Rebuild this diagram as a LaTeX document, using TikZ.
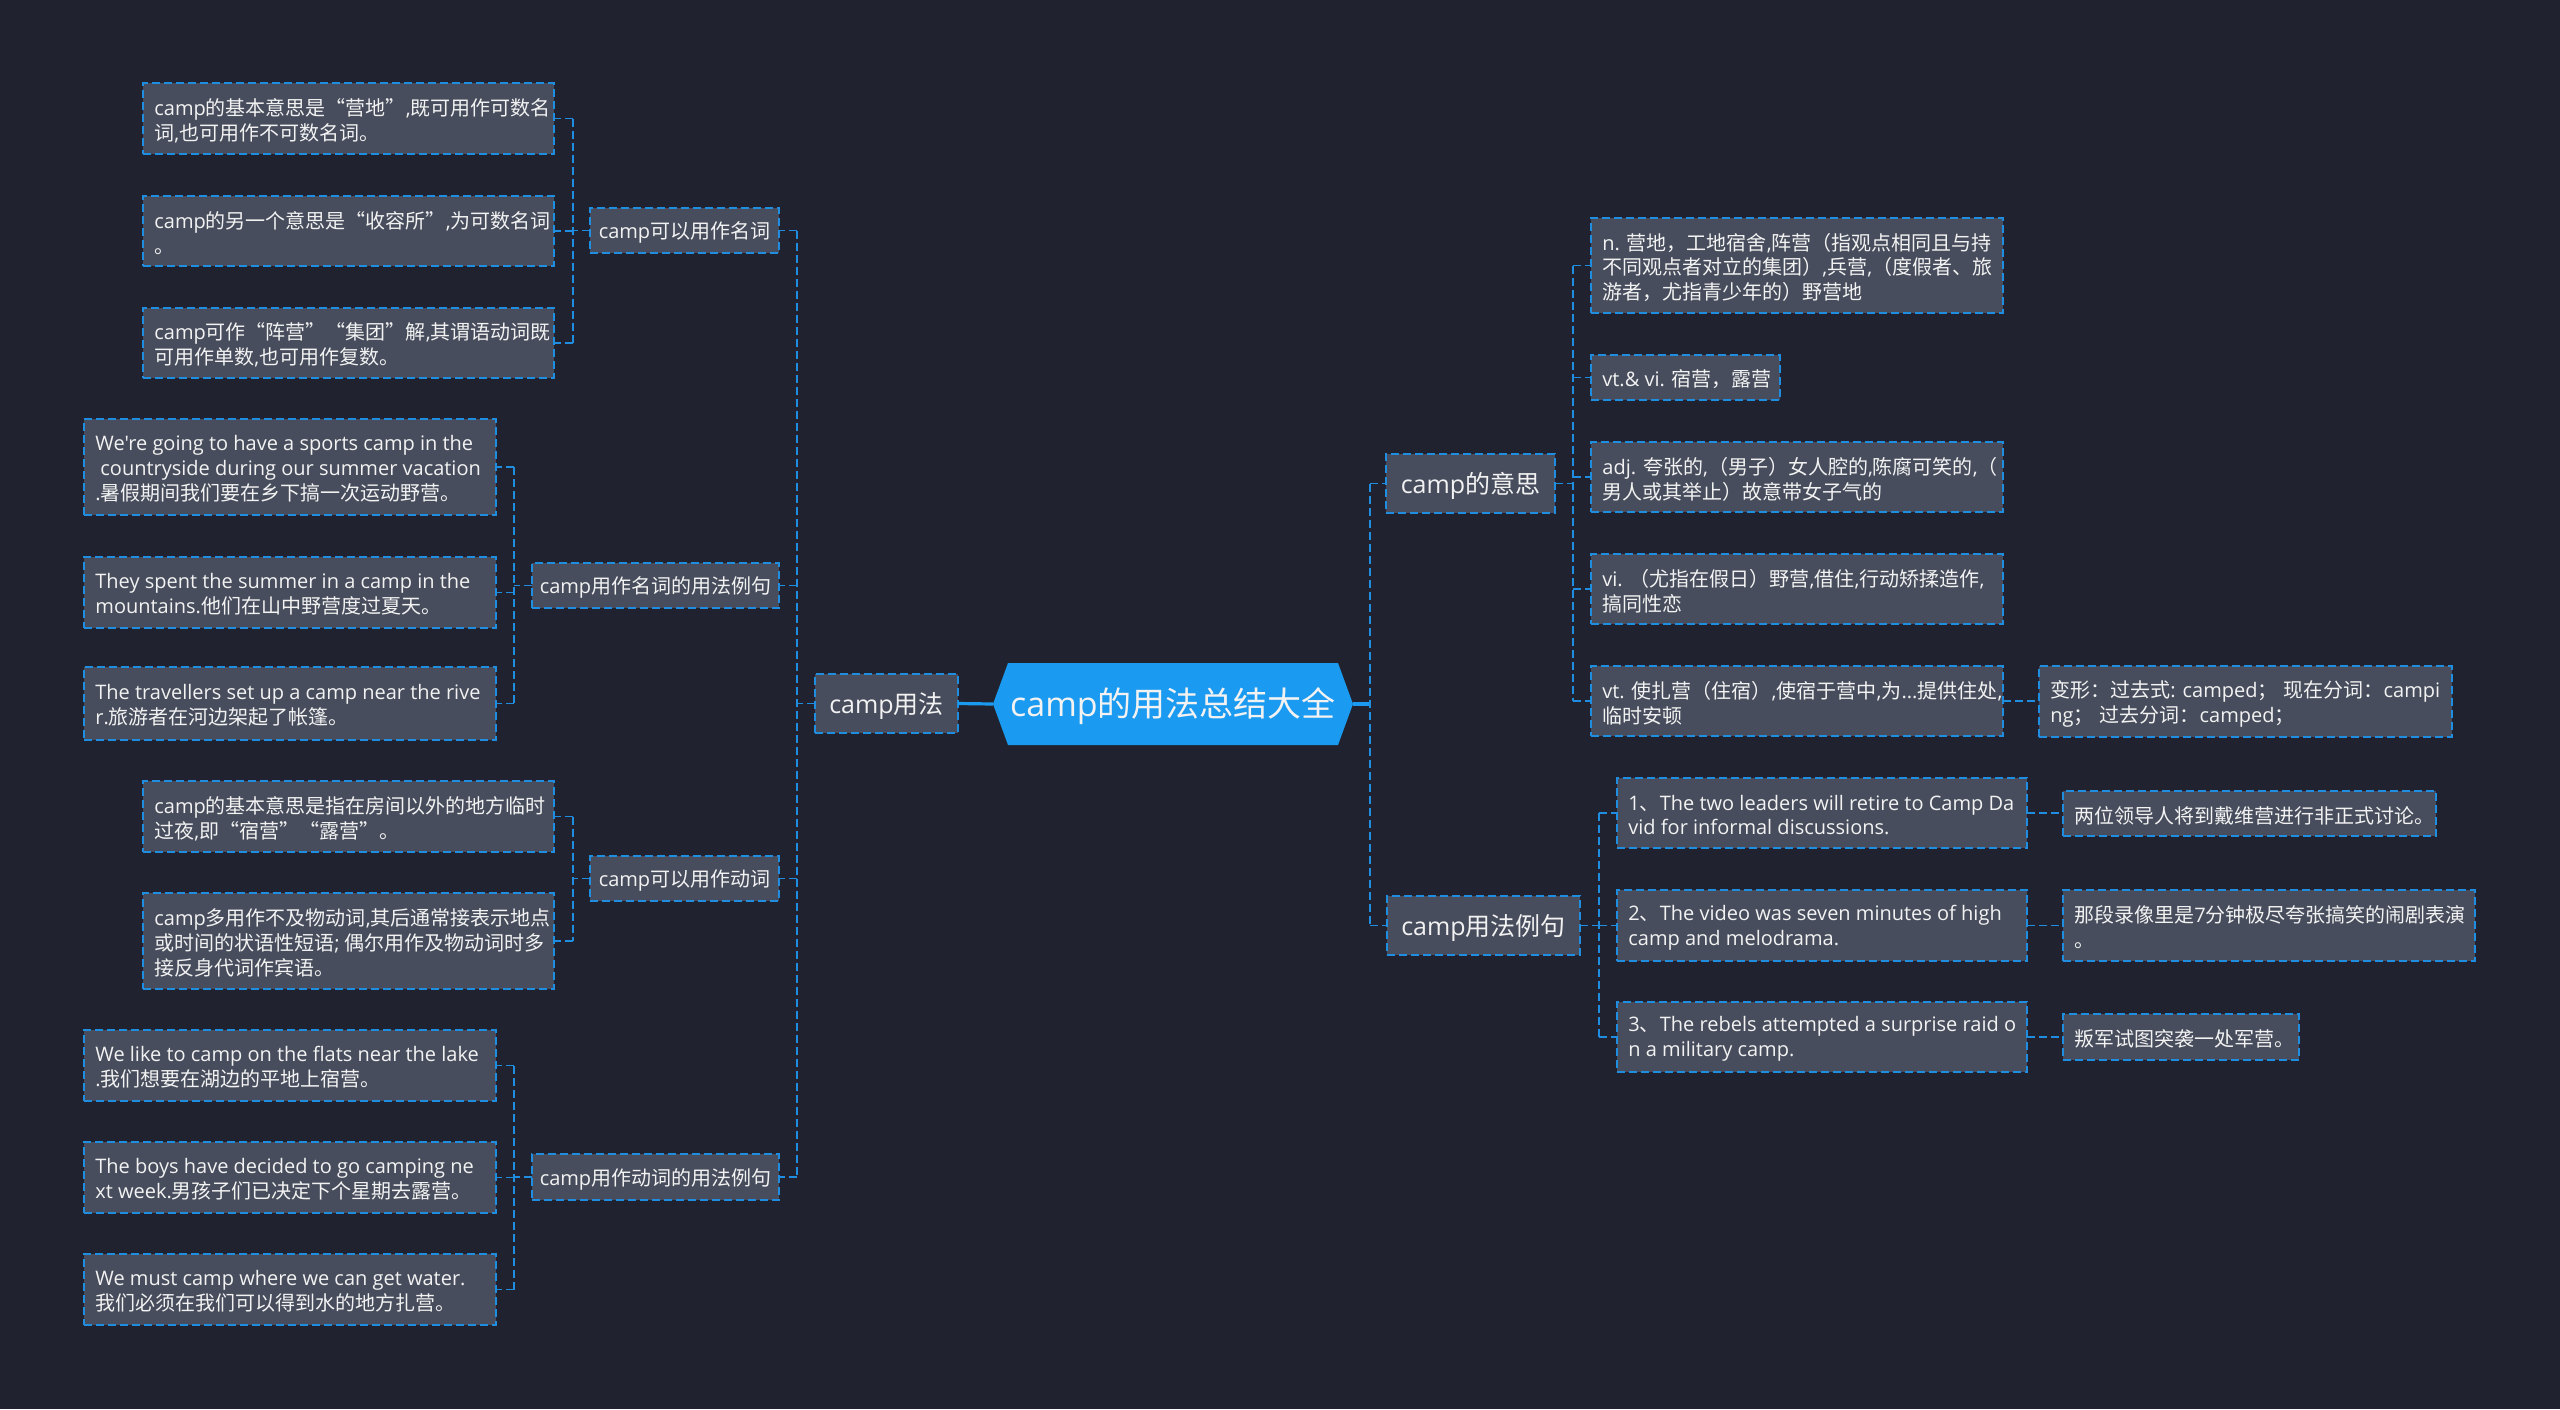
\documentclass[tikz,border=0pt]{standalone}
\usepackage{fontspec}
\setmainfont{Open Sans}
\newfontfamily\latf{Open Sans}
\newfontfamily\cjkf[CharacterWidth=Full]{Noto Sans CJK SC}
\XeTeXinterchartokenstate=1
\newXeTeXintercharclass\mmCJK
\newcount\mmc
\def\mmrange#1#2{\mmc=#1\relax\loop\XeTeXcharclass\mmc=\mmCJK\relax\ifnum\mmc<#2\relax\advance\mmc by 1\relax\repeat}
\mmrange{"3000}{"303F}
\mmrange{"4E00}{"9FFF}
\mmrange{"FF00}{"FFEF}
\XeTeXcharclass"201C=\mmCJK
\XeTeXcharclass"201D=\mmCJK
\XeTeXinterchartoks 0 \mmCJK = {\cjkf}
\XeTeXinterchartoks 4095 \mmCJK = {\cjkf}
\XeTeXinterchartoks \mmCJK 0 = {\latf}
\XeTeXinterchartoks 4095 0 = {\latf}

\definecolor{bg}{HTML}{20232F}
\definecolor{boxfill}{HTML}{474D5C}
\definecolor{bd}{HTML}{1F8DE0}
\definecolor{rootc}{HTML}{1A9AF0}
\definecolor{txt}{HTML}{F2F2F2}

\newcommand\mmleaf[6]{%
 \pgfmathsetmacro\mmw{(#4-#2)*0.5}%
 \pgfmathsetmacro\mmh{(#5-#3)*0.5}%
 \node[leafbox, minimum width=\mmw pt, minimum height=\mmh pt, anchor=north west] (#1) at (#2,#3) {};%
 \node[leaftxt, anchor=west] (#1-t) at ([xshift=5.5pt,yshift=-1pt]#1.west) {#6};%
}
\newcommand\mmlev[7]{%
 \pgfmathsetmacro\mmw{(#4-#2)*0.5}%
 \pgfmathsetmacro\mmh{(#5-#3)*0.5}%
 \node[leafbox, minimum width=\mmw pt, minimum height=\mmh pt, anchor=north west] (#1) at (#2,#3) {};%
 \node[ctrtxt, font=\fontsize{#6}{#6}\selectfont] (#1-t) at ([yshift=-1pt]#1.center) {#7};%
}

\begin{document}
\begin{tikzpicture}[x=0.5pt,y=-0.5pt,
 leafbox/.style={draw=bd, fill=boxfill, line width=0.8pt, dash pattern=on 4pt off 2pt, inner sep=0pt, outer sep=0pt},
 leaftxt/.style={text=txt, inner sep=0pt, align=left, font=\fontsize{10}{12.4}\selectfont},
 ctrtxt/.style={text=txt, inner sep=0pt, align=center},
 conn/.style={draw=bd, line width=0.75pt, dash pattern=on 4pt off 2pt},
 rootline/.style={draw=rootc, line width=1.6pt}]
\useasboundingbox (0,0) rectangle (2560,1409);
\fill[bg] (0,0) rectangle (2560,1409);

% root
\fill[rootc] (993,704) -- (1008,663) -- (1338,663) -- (1353,704) -- (1338,745) -- (1008,745) -- cycle;
\node[ctrtxt, font=\fontsize{17}{17}\selectfont] (root) at (1173,706) {camp的用法总结大全};
\coordinate (rootL) at (993,704);
\coordinate (rootR) at (1353,704);

% level 1
\mmlev{L1}{815}{674}{958}{733}{12.5}{camp用法}
\mmlev{M}{1386}{454}{1555}{513}{12.5}{camp的意思}
\mmlev{U}{1387}{896}{1580}{955}{12.5}{camp用法例句}

% level 2 left
\mmlev{N1}{590}{208}{779}{253}{10}{camp可以用作名词}
\mmlev{N2}{532}{563}{779}{608}{10}{camp用作名词的用法例句}
\mmlev{N3}{590}{856}{779}{901}{10}{camp可以用作动词}
\mmlev{N4}{532}{1154}{779}{1200}{10}{camp用作动词的用法例句}

% leaves left
\mmleaf{A1}{143}{83}{554}{154}{camp的基本意思是“营地”,既可用作可数名\\词,也可用作不可数名词。}
\mmleaf{A2}{143}{196}{554}{266}{camp的另一个意思是“收容所”,为可数名词\\。}
\mmleaf{A3}{143}{308}{554}{378}{camp可作“阵营”“集团”解,其谓语动词既\\可用作单数,也可用作复数。}
\mmleaf{B1}{84}{419}{496}{515}{We're going to have a sports camp in the\\\hspace*{0.25em}countryside during our summer vacation\\.暑假期间我们要在乡下搞一次运动野营。}
\mmleaf{B2}{84}{557}{496}{628}{They spent the summer in a camp in the\\mountains.他们在山中野营度过夏天。}
\mmleaf{B3}{84}{667}{496}{740}{The travellers set up a camp near the rive\\r.旅游者在河边架起了帐篷。}
\mmleaf{C1}{143}{781}{554}{852}{camp的基本意思是指在房间以外的地方临时\\过夜,即“宿营”“露营”。}
\mmleaf{C2}{143}{893}{554}{989}{camp多用作不及物动词,其后通常接表示地点\\或时间的状语性短语; 偶尔用作及物动词时多\\接反身代词作宾语。}
\mmleaf{D1}{84}{1030}{496}{1101}{We like to camp on the flats near the lake\\.我们想要在湖边的平地上宿营。}
\mmleaf{D2}{84}{1142}{496}{1213}{The boys have decided to go camping ne\\xt week.男孩子们已决定下个星期去露营。}
\mmleaf{D3}{84}{1254}{496}{1325}{We must camp where we can get water.\\我们必须在我们可以得到水的地方扎营。}

% leaves right
\mmleaf{R1}{1591}{218}{2003}{313}{n. 营地，工地宿舍,阵营（指观点相同且与持\\不同观点者对立的集团）,兵营,（度假者、旅\\游者，尤指青少年的）野营地}
\mmleaf{R2}{1591}{355}{1780}{400}{vt.\& vi. 宿营，露营}
\mmleaf{R3}{1591}{442}{2003}{512}{adj. 夸张的,（男子）女人腔的,陈腐可笑的,（\\男人或其举止）故意带女子气的}
\mmleaf{R4}{1591}{554}{2003}{624}{vi. （尤指在假日）野营,借住,行动矫揉造作,\\搞同性恋}
\mmleaf{R5}{1591}{666}{2003}{736}{vt. 使扎营（住宿）,使宿于营中,为...提供住处,\\临时安顿}
\mmleaf{G}{2039}{666}{2452}{737}{变形：过去式: camped；\hspace{0.3em}现在分词：campi\\ng；\hspace{0.3em}过去分词：camped；}
\mmleaf{E1}{1617}{778}{2027}{848}{1、The two leaders will retire to Camp Da\\vid for informal discussions.}
\mmleaf{E2}{1617}{890}{2027}{961}{2、The video was seven minutes of high\\camp and melodrama.}
\mmleaf{E3}{1617}{1002}{2027}{1072}{3、The rebels attempted a surprise raid o\\n a military camp.}
\mmleaf{F1}{2063}{791}{2436}{836}{两位领导人将到戴维营进行非正式讨论。}
\mmleaf{F2}{2063}{890}{2475}{961}{那段录像里是7分钟极尽夸张搞笑的闹剧表演\\。}
\mmleaf{F3}{2063}{1014}{2299}{1060}{叛军试图突袭一处军营。}

% spines
\coordinate (s0) at (797,0);
\coordinate (sA) at (573,0);
\coordinate (sB) at (514,0);
\coordinate (sR) at (1370,0);
\coordinate (sM) at (1573,0);
\coordinate (sE) at (1599,0);

% root connectors
\draw[rootline] (rootL) -- (L1.east);
\draw[rootline] (rootR) -- (rootR -| sR);

% left main spine
\draw[conn] (L1.west) -- (L1.west -| s0);
\draw[conn] (s0 |- N1.east) -- (s0 |- N4.east);
\foreach \n in {N1,N2,N3,N4} \draw[conn] (s0 |- \n.east) -- (\n.east);

% group A
\draw[conn] (N1.west) -- (N1.west -| sA);
\draw[conn] (sA |- A1.east) -- (sA |- A3.east);
\foreach \n in {A1,A2,A3} \draw[conn] (sA |- \n.east) -- (\n.east);
% group B
\draw[conn] (N2.west) -- (N2.west -| sB);
\draw[conn] (sB |- B1.east) -- (sB |- B3.east);
\foreach \n in {B1,B2,B3} \draw[conn] (sB |- \n.east) -- (\n.east);
% group C
\draw[conn] (N3.west) -- (N3.west -| sA);
\draw[conn] (sA |- C1.east) -- (sA |- C2.east);
\foreach \n in {C1,C2} \draw[conn] (sA |- \n.east) -- (\n.east);
% group D
\draw[conn] (N4.west) -- (N4.west -| sB);
\draw[conn] (sB |- D1.east) -- (sB |- D3.east);
\foreach \n in {D1,D2,D3} \draw[conn] (sB |- \n.east) -- (\n.east);

% right main spine
\draw[conn] (sR |- M.west) -- (sR |- U.west);
\draw[conn] (sR |- M.west) -- (M.west);
\draw[conn] (sR |- U.west) -- (U.west);

% meanings
\draw[conn] (M.east) -- (M.east -| sM);
\draw[conn] (sM |- R1.west) -- (sM |- R5.west);
\foreach \n in {R1,R2,R3,R4,R5} \draw[conn] (sM |- \n.west) -- (\n.west);
\draw[conn] (R5.east) -- (R5.east -| G.west);

% examples
\draw[conn] (U.east) -- (U.east -| sE);
\draw[conn] (sE |- E1.west) -- (sE |- E3.west);
\foreach \n in {E1,E2,E3} \draw[conn] (sE |- \n.west) -- (\n.west);
\draw[conn] (E1.east) -- (E1.east -| F1.west);
\draw[conn] (E2.east) -- (E2.east -| F2.west);
\draw[conn] (E3.east) -- (E3.east -| F3.west);
\end{tikzpicture}
\end{document}
